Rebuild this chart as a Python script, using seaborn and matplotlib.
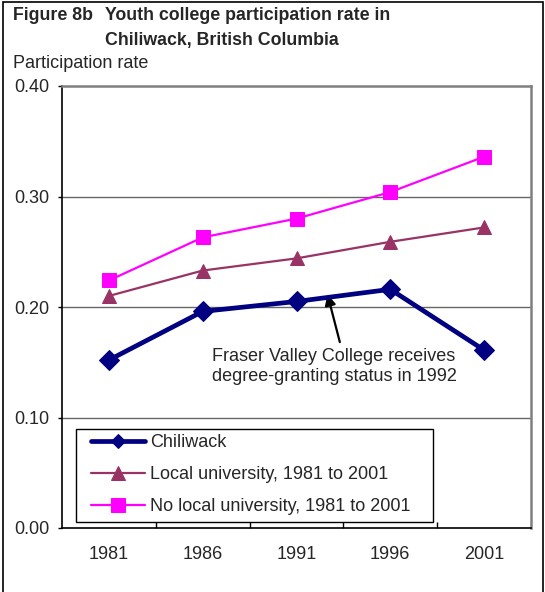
import pandas as pd
import matplotlib.pyplot as plt
import matplotlib.patches as mpatches
import seaborn as sns

years = ['1981', '1986', '1991', '1996', '2001']
chiliwack = [0.152, 0.196, 0.205, 0.216, 0.161]
local_univ = [0.210, 0.233, 0.244, 0.259, 0.272]
no_local_univ = [0.224, 0.263, 0.280, 0.304, 0.336]

sns.set_style('white')
plt.rcParams['font.family'] = ['Liberation Sans', 'DejaVu Sans']

fig = plt.figure(figsize=(5.45, 5.92), dpi=100)
ax = fig.add_axes([62 / 545, 64 / 592, 469 / 545, 442 / 592])

df = pd.DataFrame({'year': years, 'chiliwack': chiliwack,
                   'local': local_univ, 'nolocal': no_local_univ})

sns.lineplot(data=df, x='year', y='chiliwack', ax=ax, color='#000080', lw=3.4,
             marker='D', markersize=10, markeredgecolor='#000080',
             label='Chiliwack', zorder=5)
sns.lineplot(data=df, x='year', y='local', ax=ax, color='#993366', lw=1.6,
             marker='^', markersize=10.5, markeredgecolor='#993366',
             label='Local university, 1981 to 2001', zorder=4)
sns.lineplot(data=df, x='year', y='nolocal', ax=ax, color='#FF00FF', lw=1.6,
             marker='s', markersize=10, markeredgecolor='#FF00FF',
             label='No local university, 1981 to 2001', zorder=4)

ax.set_xlim(-0.5, 4.5)
ax.set_ylim(0, 0.40)
ax.set_xlabel('')
ax.set_ylabel('')

# y axis
ax.set_yticks([0, 0.1, 0.2, 0.3, 0.4])
ax.set_yticklabels(['0.00', '0.10', '0.20', '0.30', '0.40'], fontsize=13)
ax.tick_params(axis='y', direction='out', length=3, width=1, color='black',
               pad=6, left=True)
for y in [0.1, 0.2, 0.3]:
    ax.axhline(y, color='#666666', lw=1, zorder=1)

# x axis: ticks between categories, labels at centres
ax.set_xticks([0.5, 1.5, 2.5, 3.5])
ax.set_xticklabels([])
ax.set_xticks(range(len(years)), minor=True)
ax.set_xticklabels(years, minor=True, fontsize=13)
ax.tick_params(axis='x', which='major', direction='in', length=4, width=1,
               color='black', bottom=True)
ax.tick_params(axis='x', which='minor', length=0, pad=13)

for side in ['left', 'bottom']:
    ax.spines[side].set_color('black')
    ax.spines[side].set_linewidth(1.2)
for side in ['top', 'right']:
    ax.spines[side].set_color('#808080')
    ax.spines[side].set_linewidth(1.8)

ax.annotate('Fraser Valley College receives\ndegree-granting status in 1992',
            xy=(2.33, 0.2115), xytext=(2.40, 0.146),
            ha='center', va='center', fontsize=13, linespacing=1.25,
            arrowprops=dict(arrowstyle='-|>', color='black', lw=1.6,
                            mutation_scale=16, shrinkA=2, shrinkB=0,
                            relpos=(0.53, 1.0)))

# legend: box drawn separately, entries placed inside it
box = mpatches.Rectangle((14 / 469, 6 / 442), 357 / 469, 93 / 442,
                         transform=ax.transAxes, fill=True, facecolor='white',
                         edgecolor='black', lw=1.0, zorder=6)
ax.add_patch(box)
leg = ax.legend(loc='upper left', bbox_to_anchor=(29 / 469, 94 / 442),
                fontsize=13, frameon=False, borderpad=0, borderaxespad=0,
                labelspacing=0.83, handlelength=3.0, handletextpad=0.25)
leg.set_zorder(7)
leg.legend_handles[0].set_markersize(7)
leg.legend_handles[1].set_markersize(10)
leg.legend_handles[2].set_markersize(9.5)

# titles
fig.text(13 / 545, 1 - 15 / 592, 'Figure 8b', fontsize=12.8, fontweight='bold',
         va='center')
fig.text(105 / 545, 1 - 15 / 592, 'Youth college participation rate in',
         fontsize=12.8, fontweight='bold', va='center')
fig.text(105 / 545, 1 - 40 / 592, 'Chiliwack, British Columbia',
         fontsize=12.8, fontweight='bold', va='center')
fig.text(13 / 545, 1 - 63 / 592, 'Participation rate', fontsize=13,
         va='center')

# outer frame (open at the bottom)
frame = mpatches.Rectangle((3 / 545, -0.1), 540 / 545, 1.1 - 1.5 / 592,
                           transform=fig.transFigure, fill=False,
                           edgecolor='black', lw=1.2)
fig.add_artist(frame)

fig.savefig('out.png', dpi=100)
